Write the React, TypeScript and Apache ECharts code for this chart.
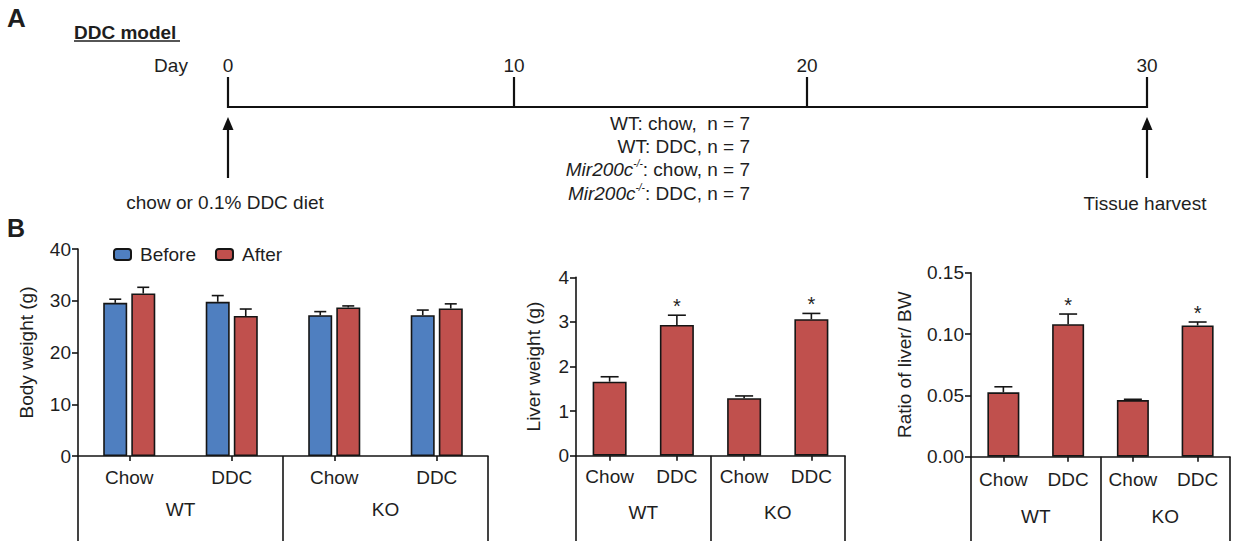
import React, { useEffect, useRef } from 'react';
import * as echarts from 'echarts';

// ---------- data ----------
const subgroups = ['Chow', 'DDC', 'Chow', 'DDC'];
const genotypes = ['WT', 'KO'];
const seriesNames = ['Before', 'After'];

const bwBefore = [29.6, 29.8, 27.2, 27.2];
const bwBeforeTop = [30.3, 31.0, 27.9, 28.2]; // mean + SEM
const bwAfter = [31.4, 27.05, 28.7, 28.5];
const bwAfterTop = [32.6, 28.4, 29.0, 29.4];

const liverWeight = [1.66, 2.93, 1.29, 3.06];
const liverWeightTop = [1.77, 3.15, 1.34, 3.19];
const liverSig = [0, 1, 0, 1];

const liverRatio = [0.0525, 0.108, 0.0462, 0.107];
const liverRatioTop = [0.057, 0.1163, 0.0468, 0.1098];
const ratioSig = [0, 1, 0, 1];

const timelineDays = ['0', '10', '20', '30'];
const cohortLines = [
  ['', 'WT: chow,  n = 7'],
  ['', 'WT: DDC, n = 7'],
  ['Mir200c', ': chow, n = 7'],
  ['Mir200c', ': DDC, n = 7'],
];

// ---------- style ----------
const FONT = 'Liberation Sans, Arial, sans-serif';
const FS = 19;
const TXT = '#1e1e1e';
const BLUE = '#4f7fc0';
const RED = '#c0504d';
const EDGE = '#151515';

function errSeries(xi: number, means: number[], tops: number[], offset: number, capHalf: number, sig?: number[]) {
  return {
    type: 'custom',
    xAxisIndex: xi,
    silent: true,
    z: 5,
    data: means.map((m, i) => [i, m, tops[i], sig ? sig[i] : 0]),
    encode: { x: 0, y: [1, 2] },
    renderItem: (_p: any, api: any) => {
      const base = api.coord([api.value(0), api.value(1)]);
      const top = api.coord([api.value(0), api.value(2)]);
      const cx = base[0] + offset;
      const children: any[] = [
        { type: 'line', shape: { x1: cx, y1: base[1], x2: cx, y2: top[1] }, style: { stroke: EDGE, lineWidth: 1.6 } },
        { type: 'line', shape: { x1: cx - capHalf, y1: top[1], x2: cx + capHalf, y2: top[1] }, style: { stroke: EDGE, lineWidth: 1.6 } },
      ];
      if (api.value(3)) {
        children.push({
          type: 'text',
          style: { text: '*', x: cx, y: top[1] - 9, align: 'center', verticalAlign: 'middle', fontSize: 20, fontFamily: FONT, fill: TXT },
        });
      }
      return { type: 'group', children };
    },
  };
}

function xAxes(gi: number, m1: number, m2: number) {
  return [
    {
      type: 'category',
      gridIndex: gi,
      position: 'bottom',
      data: subgroups,
      boundaryGap: true,
      axisLine: { show: true, lineStyle: { color: EDGE, width: 1.6 } },
      axisTick: { show: true, alignWithLabel: true, length: 5, lineStyle: { color: EDGE, width: 1.6 } },
      axisLabel: { fontSize: FS, fontFamily: FONT, color: TXT, margin: m1, interval: 0 },
    },
    {
      type: 'category',
      gridIndex: gi,
      position: 'bottom',
      data: genotypes,
      boundaryGap: true,
      axisLine: { show: false },
      axisTick: { show: true, interval: 0, length: 100, lineStyle: { color: EDGE, width: 1.6 } },
      axisLabel: { fontSize: FS, fontFamily: FONT, color: TXT, margin: m2, interval: 0 },
    },
  ];
}

function yAxis(gi: number, max: number, interval: number, name: string, gap: number, digits: number) {
  return {
    type: 'value',
    gridIndex: gi,
    min: 0,
    max,
    interval,
    name,
    nameLocation: 'middle',
    nameGap: gap,
    nameTextStyle: { fontSize: FS, fontFamily: FONT, color: TXT },
    splitLine: { show: false },
    axisLine: { show: true, lineStyle: { color: EDGE, width: 1.6 } },
    axisTick: { show: true, length: 6, lineStyle: { color: EDGE, width: 1.6 } },
    axisLabel: {
      fontSize: FS,
      fontFamily: FONT,
      color: TXT,
      margin: 7,
      formatter: (v: number) => v.toFixed(digits),
    },
  };
}

function panelAGraphics() {
  const tickX = [228, 514, 807, 1147];
  const lineY = 107;
  const els: any[] = [];
  const txt = (text: string, x: number, y: number, extra: any = {}) => ({
    type: 'text',
    style: { text, x, y, fontSize: FS, fontFamily: FONT, fill: TXT, align: 'center', verticalAlign: 'middle', ...extra },
  });
  els.push(txt('A', 7, 18, { align: 'left', fontSize: 26, fontWeight: 'bold' }));
  els.push(txt('DDC model', 74, 32, { align: 'left', fontSize: 19, fontWeight: 'bold' }));
  els.push({ type: 'line', shape: { x1: 74, y1: 41, x2: 180, y2: 41 }, style: { stroke: TXT, lineWidth: 1.6 } });
  els.push(txt('Day', 171, 65));
  timelineDays.forEach((d, i) => {
    els.push(txt(d, tickX[i], 65));
    els.push({ type: 'line', shape: { x1: tickX[i], y1: 77, x2: tickX[i], y2: lineY + 1 }, style: { stroke: '#111', lineWidth: 2.2 } });
  });
  els.push({ type: 'line', shape: { x1: tickX[0], y1: lineY, x2: tickX[3], y2: lineY }, style: { stroke: '#111', lineWidth: 2.2 } });
  [tickX[0], tickX[3]].forEach((x) => {
    els.push({ type: 'line', shape: { x1: x, y1: 128, x2: x, y2: 178 }, style: { stroke: '#111', lineWidth: 2.2 } });
    els.push({ type: 'polygon', shape: { points: [[x, 117], [x - 5.5, 130], [x + 5.5, 130]] }, style: { fill: '#111' } });
  });
  els.push(txt('chow or 0.1% DDC diet', 225, 202));
  els.push(txt('Tissue harvest', 1145, 203));
  const ys = [123, 146, 169, 193];
  cohortLines.forEach(([it, rest], i) => {
    const text = it ? `{i|${it}}{s|-/-}{n|${rest}}` : `{n|${rest}}`;
    els.push({
      type: 'text',
      style: {
        text,
        x: 750,
        y: ys[i],
        align: 'right',
        verticalAlign: 'middle',
        fontFamily: FONT,
        fill: TXT,
        rich: {
          i: { fontSize: FS, fontStyle: 'italic', fontFamily: FONT, fill: TXT, lineHeight: 21 },
          s: { fontSize: 10, fontStyle: 'italic', fontFamily: FONT, fill: TXT, lineHeight: 21, verticalAlign: 'top' },
          n: { fontSize: FS, fontFamily: FONT, fill: TXT, lineHeight: 21 },
        },
      },
    });
  });
  els.push(txt('B', 7, 228, { align: 'left', fontSize: 25, fontWeight: 'bold' }));
  return els;
}

export default function App() {
  const ref = useRef<HTMLDivElement>(null);
  useEffect(() => {
    document.body.style.margin = '0';
    const chart = echarts.init(ref.current!, null, { renderer: 'svg' });
    const barStyle = (c: string) => ({ color: c, borderColor: EDGE, borderWidth: 1.6 });
    chart.setOption({
      animation: false,
      backgroundColor: '#ffffff',
      textStyle: { fontFamily: FONT },
      grid: [
        { left: 78, top: 249, width: 410, height: 207 },
        { left: 576, top: 277.3, width: 269, height: 178.4 },
        { left: 971, top: 272.7, width: 259, height: 184 },
      ],
      legend: {
        data: seriesNames,
        left: 113,
        top: 245,
        itemWidth: 17,
        itemHeight: 11,
        itemGap: 19,
        padding: 0,
        textStyle: { fontSize: FS, fontFamily: FONT, color: TXT, padding: [0, 0, 0, 4] },
      },
      xAxis: [...xAxes(0, 12, 44), ...xAxes(1, 11, 47), ...xAxes(2, 13, 50)],
      yAxis: [
        yAxis(0, 40, 10, 'Body weight (g)', 42, 0),
        yAxis(1, 4, 1, 'Liver weight (g)', 33, 0),
        yAxis(2, 0.15, 0.05, 'Ratio of liver/ BW', 57, 2),
      ],
      series: [
        { name: seriesNames[0], type: 'bar', xAxisIndex: 0, yAxisIndex: 0, data: bwBefore, barWidth: 24, barGap: '17%', itemStyle: barStyle(BLUE) },
        { name: seriesNames[1], type: 'bar', xAxisIndex: 0, yAxisIndex: 0, data: bwAfter, barWidth: 24, barGap: '17%', itemStyle: barStyle(RED) },
        { ...errSeries(0, bwBefore, bwBeforeTop, -14, 6), yAxisIndex: 0 },
        { ...errSeries(0, bwAfter, bwAfterTop, 14, 6), yAxisIndex: 0 },
        { name: 'Liver', type: 'bar', xAxisIndex: 2, yAxisIndex: 1, data: liverWeight, barWidth: 34, itemStyle: barStyle(RED) },
        { ...errSeries(2, liverWeight, liverWeightTop, 0, 9, liverSig), yAxisIndex: 1 },
        { name: 'Ratio', type: 'bar', xAxisIndex: 4, yAxisIndex: 2, data: liverRatio, barWidth: 32, itemStyle: barStyle(RED) },
        { ...errSeries(4, liverRatio, liverRatioTop, 0, 9, ratioSig), yAxisIndex: 2 },
      ],
      graphic: panelAGraphics(),
    });
    return () => chart.dispose();
  }, []);
  return <div ref={ref} style={{ width: 1233, height: 541 }} />;
}
